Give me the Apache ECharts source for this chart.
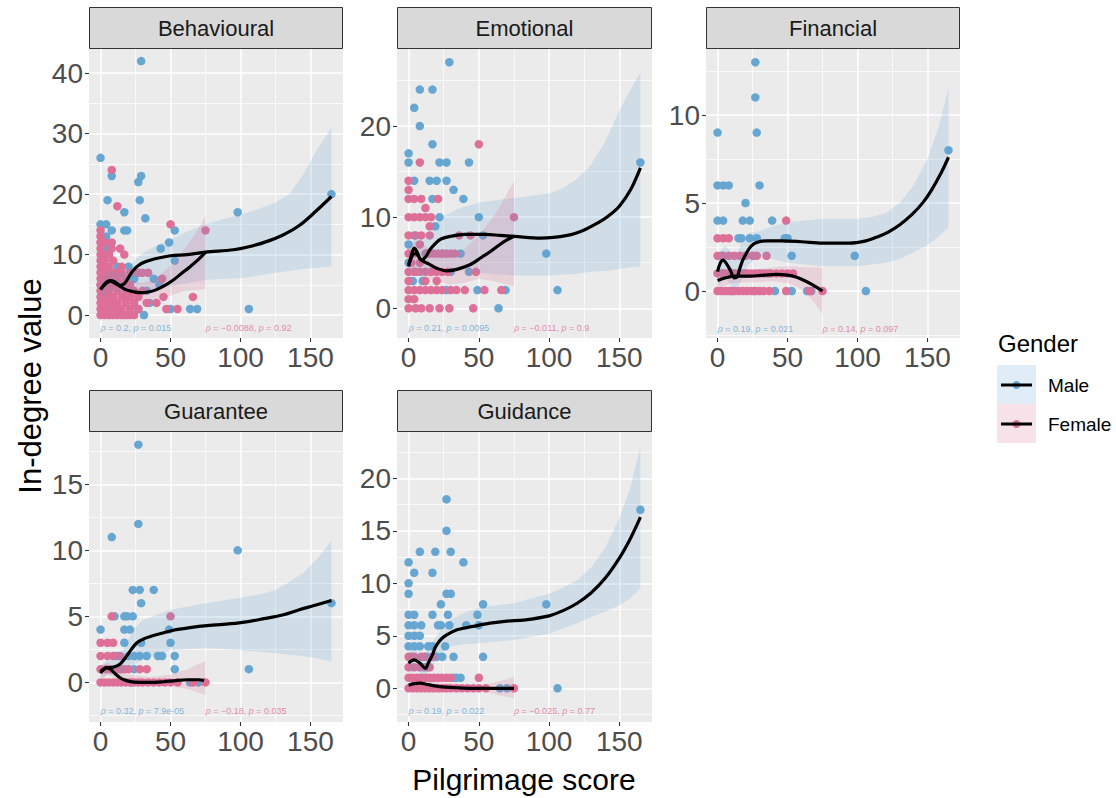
<!DOCTYPE html>
<html><head><meta charset="utf-8">
<script src="https://cdn.jsdelivr.net/npm/echarts@6/dist/echarts.min.js"></script>
<style>html,body{margin:0;padding:0;background:#fff}#c{width:1116px;height:798px}</style>
</head><body><div id="c"></div>
<script>
// ---------------- DATA ----------------
const panelNames = ['Behavioural', 'Emotional', 'Financial', 'Guarantee', 'Guidance'];
const xTicks = [0, 50, 100, 150];
const xMinorTicks = [25, 75, 125];
const xRange = [-8.25, 173.25];
const yTicks = [[0, 10, 20, 30, 40], [0, 10, 20], [0, 5, 10], [0, 5, 10, 15], [0, 5, 10, 15, 20]];
const yMinorTicks = [[5, 15, 25, 35], [5, 15, 25], [-2.5, 2.5, 7.5, 12.5], [-2.5, 2.5, 7.5, 12.5, 17.5], [-2.5, 2.5, 7.5, 12.5, 17.5, 22.5]];
const yRanges = [[-3.8, 44.0], [-3.26, 28.45], [-2.67, 13.75], [-3.0, 18.96], [-3.21, 24.41]];
const genders = ['Male', 'Female'];

const malePoints = [
  [[0,26],[8,23],[27,22],[29,23],[29,42],[5,19],[28,19],[17,17],[32,16],[98,17],[0,15],[4,15],[8,14],[17,14],[19,14],[53,14],[49,12],[43,11],[53,9],[4,13],[4,11],[3,8],[12,8],[20,8],[25,7],[38,6],[42,5],[33,4],[35,2],[31,0],[50,1],[64,1],[69,1],[106,1],[165,20],[4,4],[8,2],[15,5],[18,3],[22,4],[27,1],[10,6],[24,6],[0,5],[2,3],[6,7]],
  [[4,22],[8,20],[17,18],[0,17],[0,16],[22,16],[27,16],[43,16],[4,14],[15,14],[20,14],[27,14],[32,13],[17,12],[39,12],[22,10],[50,10],[19,9],[53,8],[0,7],[37,6],[98,6],[0,5],[43,4],[3,3],[27,2],[49,2],[69,2],[64,0],[106,2],[165,16],[29,27],[8,24],[17,24],[4,8],[12,6],[24,6],[30,4],[10,3],[5,4]],
  [[27,13],[27,11],[0,9],[28,9],[0,6],[4,6],[8,6],[30,6],[20,5],[0,4],[4,4],[18,4],[23,4],[39,4],[15,3],[17,3],[23,3],[28,3],[48,3],[50,3],[53,2],[98,2],[41,0],[53,0],[64,0],[67,0],[106,0],[165,8],[4,1],[12,1],[20,1],[30,1],[36,1],[3,2],[10,0],[26,0]],
  [[27,18],[27,12],[8,11],[98,10],[23,7],[28,7],[38,7],[29,6],[165,6],[10,5],[17,5],[19,5],[23,5],[0,4],[17,4],[21,4],[49,4],[17,3],[29,3],[50,3],[20,2],[24,2],[28,2],[33,2],[41,2],[44,2],[53,2],[24,1],[53,1],[106,1],[64,0],[70,0],[12,2],[8,1],[15,1]],
  [[27,18],[27,15],[8,13],[19,13],[30,13],[0,12],[39,12],[4,11],[17,11],[0,10],[0,9],[27,9],[30,9],[23,8],[53,8],[98,8],[0,7],[4,7],[17,7],[28,7],[49,7],[0,6],[4,6],[9,6],[21,6],[23,6],[29,6],[41,6],[50,6],[0,5],[4,5],[8,5],[0,4],[4,4],[8,4],[17,4],[26,4],[13,3],[32,3],[53,3],[37,1],[32,1],[106,0],[65,0],[70,0],[165,17],[11,2],[20,3],[24,3],[14,4],[34,1]]
];

const femalePoints = [
  [[0,0],[0,1],[0,2],[0,3],[0,4],[0,5],[0,6],[0,7],[0,8],[0,9],[0,10],[0,11],[0,12],[0,13],[0,14],[8,24],[12,18],[50,15],[75,14],[8,12],[8,11],[14,11],[17,10],[34,7],[44,6],[66,3],[45,3],[40,2],[47,1],[55,1],
   [3,0],[3,1],[3,2],[3,3],[3,4],[3,5],[3,6],[3,7],[3,8],[3,9],[3,10],[3,12],[6,0],[6,1],[6,2],[6,3],[6,4],[6,5],[6,6],[6,8],[6,10],[9,0],[9,1],[9,2],[9,3],[9,5],[9,7],[9,9],[12,0],[12,1],[12,2],[12,4],[12,6],[12,7],[15,0],[15,1],[15,3],[15,5],[15,7],[15,8],[18,0],[18,2],[18,4],[18,6],[21,0],[21,1],[21,3],[21,5],[21,7],[24,0],[24,2],[24,4],[27,1],[27,3],[27,7],[30,4],[33,2],[30,7]],
  [[50,18],[8,16],[0,14],[0,13],[0,12],[4,12],[9,12],[21,12],[12,11],[0,10],[4,10],[8,10],[12,10],[16,10],[75,10],[15,9],[0,8],[5,8],[9,8],[15,8],[36,8],[44,8],[8,7],[13,6],[15,6],[18,6],[21,6],[24,6],[27,6],[30,6],[33,6],[0,4],[4,4],[8,4],[12,4],[16,4],[20,4],[24,4],[48,4],[20,3],[0,2],[4,2],[8,2],[12,2],[16,2],[20,2],[24,2],[34,2],[40,2],[54,2],[66,2],[0,1],[4,1],[0,0],[5,0],[9,0],[15,0],[22,0],[29,0],[46,0],[0,6],[4,6],[8,5],[0,3],[12,3],[28,4],[30,2],[2,5]],
  [[49,4],[0,3],[4,3],[8,3],[0,2],[4,2],[8,2],[12,2],[16,2],[20,2],[25,2],[28,2],[35,2],[0,1],[3,1],[6,1],[9,1],[12,1],[15,1],[18,1],[21,1],[24,1],[27,1],[30,1],[33,1],[38,1],[42,1],[46,1],[50,1],[54,1],[0,0],[3,0],[6,0],[9,0],[12,0],[15,0],[18,0],[21,0],[24,0],[27,0],[30,0],[33,0],[37,0],[49,0],[66,0],[75,0]],
  [[8,5],[50,5],[0,3],[5,3],[9,3],[0,2],[5,2],[9,2],[14,2],[0,1],[4,1],[7,1],[11,1],[14,1],[20,1],[28,1],[33,1],[0,0],[3,0],[6,0],[9,0],[12,0],[15,0],[18,0],[21,0],[24,0],[27,0],[30,0],[34,0],[38,0],[42,0],[46,0],[50,0],[55,0],[66,0],[75,0],[17,1],[22,0]],
  [[0,3],[4,3],[9,3],[17,3],[0,2],[4,2],[13,2],[15,2],[0,1],[3,1],[6,1],[9,1],[12,1],[15,1],[18,1],[21,1],[24,1],[27,1],[30,1],[50,1],[0,0],[3,0],[6,0],[9,0],[12,0],[15,0],[18,0],[21,0],[24,0],[27,0],[30,0],[34,0],[38,0],[42,0],[46,0],[50,0],[55,0],[75,0],[8,2],[2,3],[11,3]]
];

// loess fits: [x, fit]
const maleFit = [
  [[0,4.2],[4,5.4],[7,5.7],[10,5.5],[14,4.9],[17,5.2],[20,6.2],[23,7.3],[27,8.2],[32,8.8],[39,9.3],[50,9.8],[62,10.0],[75,10.4],[95,10.8],[106,11.3],[118,12.1],[130,13.2],[142,14.8],[154,17.2],[165,19.6]],
  [[0,4.6],[2,5.8],[4,6.6],[6,6.2],[9,5.3],[12,5.6],[15,6.4],[19,7.1],[23,7.6],[30,7.9],[40,8.1],[55,8.1],[65,8.0],[75,7.9],[94,7.7],[113,8.0],[125,8.6],[135,9.4],[142,10.1],[150,11.2],[158,13.0],[165,15.4]],
  [[0,1.1],[2,1.6],[4,1.75],[6,1.6],[9,1.2],[12,0.75],[14,0.8],[16,1.3],[18,1.75],[21,2.2],[24,2.55],[28,2.75],[35,2.85],[46,2.85],[60,2.8],[75,2.72],[94,2.72],[106,2.85],[115,3.1],[122,3.35],[130,3.75],[139,4.35],[147,5.05],[153,5.75],[160,6.75],[165,7.6]],
  [[0,0.7],[4,1.1],[9,1.15],[14,1.4],[18,1.9],[22,2.5],[26,3.0],[30,3.25],[35,3.45],[43,3.7],[52,3.95],[64,4.15],[76,4.3],[99,4.5],[118,4.85],[130,5.1],[142,5.5],[152,5.8],[165,6.2]],
  [[0,2.4],[4,2.7],[8,2.4],[12,1.9],[14,2.4],[17,3.2],[19,3.9],[22,4.5],[25,4.9],[30,5.3],[35,5.6],[46,5.9],[58,6.2],[70,6.4],[82,6.5],[100,6.9],[110,7.4],[120,8.1],[130,9.1],[140,10.5],[150,12.4],[158,14.3],[165,16.3]]
];
const femaleFit = [
  [[0,4.3],[4,5.2],[7,5.6],[10,5.3],[13,4.9],[18,4.2],[23,3.9],[28,3.7],[34,3.8],[40,4.2],[46,4.9],[52,5.8],[58,6.9],[64,8.0],[70,9.2],[75,10.4]],
  [[0,4.8],[3,5.9],[5,6.0],[9,5.3],[14,4.9],[20,4.4],[27,4.1],[35,4.3],[44,4.8],[52,5.6],[58,6.2],[65,7.0],[70,7.5],[75,7.9]],
  [[0,0.6],[6,0.75],[12,0.85],[23,0.85],[33,0.9],[42,0.95],[50,0.9],[56,0.8],[62,0.6],[68,0.35],[75,0.0]],
  [[0,0.8],[4,1.1],[7,1.0],[10,0.7],[14,0.35],[18,0.15],[24,0.02],[35,0.0],[45,0.05],[52,0.12],[62,0.2],[70,0.2],[74,0.15]],
  [[0,0.3],[4,0.45],[8,0.5],[14,0.35],[22,0.16],[35,0.05],[46,0.0],[60,0.0],[75,0.0]]
];
// confidence bands: [x, lower, upper]
const maleBand = [
  [[0,2.5,6.2],[5,3.6,7.2],[10,4.0,7.2],[15,3.6,6.8],[20,3.7,8.0],[25,3.6,9.2],[30,3.8,10.2],[40,4.3,11.5],[50,4.7,12.5],[60,5.2,13.6],[75,5.8,15.0],[90,6.0,16.0],[100,6.1,16.6],[110,6.4,17.3],[125,7.0,18.6],[135,7.3,20.0],[145,7.6,23.3],[155,7.8,27.5],[165,8.0,31.0]],
  [[0,3.4,6.0],[5,4.5,8.5],[10,3.2,7.4],[15,4.0,8.2],[20,4.4,9.3],[25,4.5,10.1],[35,4.2,10.9],[50,3.9,11.6],[75,3.6,12.1],[100,3.6,12.6],[110,3.7,13.2],[120,3.8,14.2],[130,4.0,15.8],[140,4.1,18.3],[150,4.3,21.7],[158,4.5,24.0],[165,4.6,25.9]],
  [[0,0.2,2.0],[5,0.8,2.6],[10,0.3,2.2],[13,0.0,1.8],[17,0.6,2.8],[22,1.5,3.3],[30,2.0,3.4],[40,1.8,3.7],[50,1.6,3.9],[75,1.4,4.1],[100,1.4,4.1],[110,1.5,4.2],[120,1.6,4.4],[130,1.8,5.0],[140,2.2,6.0],[150,2.6,7.5],[158,3.1,9.3],[165,3.6,11.5]],
  [[0,0.2,1.3],[5,0.6,1.6],[10,0.6,1.7],[15,0.8,2.3],[20,1.05,3.3],[25,1.4,4.2],[30,1.7,4.7],[40,2.1,5.1],[50,2.45,5.5],[75,2.6,6.0],[100,2.45,6.4],[115,2.3,6.7],[125,2.2,7.0],[135,2.1,7.6],[145,2.0,8.3],[155,1.8,9.4],[165,1.6,10.7]],
  [[0,1.3,3.6],[5,1.8,3.7],[10,1.2,3.2],[15,1.6,3.9],[20,2.7,5.0],[25,3.5,5.9],[30,4.0,6.5],[40,4.2,7.2],[50,4.3,7.7],[75,4.6,8.1],[100,5.2,9.0],[110,5.7,9.6],[120,6.2,10.3],[130,6.8,11.5],[140,7.3,13.4],[150,7.9,16.2],[158,8.6,19.2],[165,9.5,23.0]]
];
const femaleBand = [
  [[0,2.5,6.3],[5,3.3,7.0],[10,3.5,7.0],[15,3.0,6.3],[20,2.6,5.8],[30,2.2,5.3],[40,2.3,6.1],[50,3.2,8.2],[55,3.6,9.5],[60,4.0,11.0],[65,4.1,12.5],[70,4.2,14.3],[75,4.3,16.4]],
  [[0,3.3,6.5],[5,4.0,7.5],[10,3.8,7.0],[15,3.3,6.5],[20,2.9,6.0],[30,2.6,5.6],[40,2.8,6.6],[50,3.2,8.0],[55,3.1,9.0],[60,3.0,10.0],[65,2.8,11.2],[70,2.6,12.6],[75,2.4,13.9]],
  [[0,0.1,1.2],[10,0.45,1.25],[25,0.5,1.2],[40,0.55,1.35],[50,0.45,1.4],[55,0.3,1.4],[60,0.1,1.35],[65,-0.3,1.35],[70,-0.75,1.35],[75,-1.3,1.3]],
  [[0,0.3,1.3],[5,0.6,1.5],[10,0.3,1.1],[15,-0.1,0.8],[20,-0.3,0.6],[35,-0.3,0.4],[50,-0.3,0.6],[56,-0.4,0.8],[62,-0.5,1.0],[68,-0.7,1.3],[75,-0.95,1.6]],
  [[0,-0.1,0.7],[5,0.1,0.85],[10,0.1,0.8],[18,-0.1,0.6],[25,-0.2,0.5],[50,-0.3,0.3],[56,-0.4,0.4],[62,-0.6,0.6],[68,-0.75,0.8],[75,-0.95,1.1]]
];
// correlation annotations
const maleRho = ['0.2', '0.21', '0.19', '0.32', '0.19'];
const maleP = ['0.015', '0.0095', '0.021', '7.9e-05', '0.022'];
const femaleRho = ['\u22120.0088', '\u22120.011', '0.14', '\u22120.18', '\u22120.025'];
const femaleP = ['0.92', '0.9', '0.097', '0.035', '0.77'];
const annotX = [0, 75];
const annotY = -2.15;

// ---------------- LAYOUT / STYLE ----------------
const FONT = '"Liberation Sans", Arial, Helvetica, sans-serif';
const BLUE = '#66A6D1';
const PINK = '#DE6F96';
const BLUE_BAND = 'rgba(102,166,209,0.2)';
const PINK_BAND = 'rgba(222,111,150,0.2)';
const grids = [
  {left: 89, top: 49, width: 254, height: 289},
  {left: 397, top: 49, width: 255, height: 289},
  {left: 706, top: 49, width: 254, height: 289},
  {left: 89, top: 432, width: 254, height: 290},
  {left: 397, top: 432, width: 255, height: 290}
];

const xAxes = [], yAxes = [], series = [], graphics = [];
grids.forEach((g, i) => {
  g.show = true; g.backgroundColor = '#EBEBEB'; g.borderWidth = 0; g.containLabel = false;
  xAxes.push({
    gridIndex: i, type: 'value', min: xRange[0], max: xRange[1], position: 'bottom',
    axisLine: {show: false, onZero: false},
    axisTick: {show: true, customValues: xTicks, length: 4, lineStyle: {color: '#333333', width: 1.1}},
    axisLabel: {show: true, customValues: xTicks, color: '#4D4D4D', fontSize: 28, fontFamily: FONT, margin: 5},
    splitLine: {show: true, lineStyle: {color: '#FFFFFF', width: 1.5}}
  });
  xAxes.push({
    gridIndex: i, type: 'value', min: xRange[0], max: xRange[1], position: 'bottom',
    axisLine: {show: false, onZero: false},
    axisTick: {show: false, customValues: xMinorTicks},
    axisLabel: {show: false, customValues: xMinorTicks},
    splitLine: {show: true, lineStyle: {color: '#FFFFFF', width: 0.7}}
  });
  yAxes.push({
    gridIndex: i, type: 'value', min: yRanges[i][0], max: yRanges[i][1], position: 'left',
    axisLine: {show: false, onZero: false},
    axisTick: {show: true, customValues: yTicks[i], length: 4, lineStyle: {color: '#333333', width: 1.1}},
    axisLabel: {show: true, customValues: yTicks[i], color: '#4D4D4D', fontSize: 28, fontFamily: FONT, margin: 6},
    splitLine: {show: true, lineStyle: {color: '#FFFFFF', width: 1.5}}
  });
  yAxes.push({
    gridIndex: i, type: 'value', min: yRanges[i][0], max: yRanges[i][1], position: 'left',
    axisLine: {show: false, onZero: false},
    axisTick: {show: false, customValues: yMinorTicks[i]},
    axisLabel: {show: false, customValues: yMinorTicks[i]},
    splitLine: {show: true, lineStyle: {color: '#FFFFFF', width: 0.7}}
  });
  const xi = 2 * i, yi = 2 * i;
  series.push({type: 'scatter', name: 'Male', xAxisIndex: xi, yAxisIndex: yi, data: malePoints[i],
    symbolSize: 8.5, itemStyle: {color: BLUE, opacity: 1}, z: 2, silent: true});
  series.push({type: 'scatter', name: 'Female', xAxisIndex: xi, yAxisIndex: yi, data: femalePoints[i],
    symbolSize: 8.5, itemStyle: {color: PINK, opacity: 1}, z: 2, silent: true});
  [[maleBand[i], BLUE_BAND], [femaleBand[i], PINK_BAND]].forEach(([band, col]) => {
    series.push({
      type: 'custom', xAxisIndex: xi, yAxisIndex: yi, data: band, z: 3, silent: true, clip: true,
      encode: {x: 0, y: [1, 2]},
      renderItem: (params, api) => {
        if (params.dataIndex !== 0) return null;
        const pts = [];
        band.forEach(b => pts.push(api.coord([b[0], b[2]])));
        band.slice().reverse().forEach(b => pts.push(api.coord([b[0], b[1]])));
        return {type: 'polygon', shape: {points: pts}, style: {fill: col}};
      }
    });
  });
  [maleFit[i], femaleFit[i]].forEach(fit => {
    series.push({type: 'line', xAxisIndex: xi, yAxisIndex: yi, data: fit, showSymbol: false, symbol: 'none',
      smooth: 0.35, lineStyle: {color: '#000000', width: 3.2}, z: 4, silent: true});
  });
  [[maleRho[i], maleP[i], BLUE, annotX[0]], [femaleRho[i], femaleP[i], PINK, annotX[1]]].forEach(([r, p, col, ax]) => {
    series.push({type: 'scatter', xAxisIndex: xi, yAxisIndex: yi, data: [[ax, annotY]], symbolSize: 0, z: 5, silent: true,
      label: {show: true, position: 'right', distance: 0, color: col, fontSize: 9, fontFamily: FONT,
        formatter: () => '{i|\u03C1} = ' + r + ', {i|p} = ' + p,
        rich: {i: {fontStyle: 'italic', color: col, fontSize: 9, fontFamily: FONT}}}});
  });
  const g0 = grids[i];
  graphics.push({type: 'rect', shape: {x: g0.left + 0.5, y: g0.top - 41.5, width: g0.width - 1, height: 41},
    style: {fill: '#D9D9D9', stroke: '#333333', lineWidth: 1}, z: 10});
  graphics.push({type: 'text', x: g0.left + g0.width / 2, y: g0.top - 21, z: 11,
    style: {text: panelNames[i], fill: '#1A1A1A', fontSize: 22, fontFamily: FONT, textAlign: 'center', textVerticalAlign: 'middle'}});
});

graphics.push({type: 'text', x: 30, y: 386, rotation: Math.PI / 2,
  style: {text: 'In-degree value', fill: '#000', fontSize: 31, fontFamily: FONT, textAlign: 'center', textVerticalAlign: 'middle'}});
graphics.push({type: 'text', x: 524, y: 779,
  style: {text: 'Pilgrimage score', fill: '#000', fontSize: 30, fontFamily: FONT, textAlign: 'center', textVerticalAlign: 'middle'}});
graphics.push({type: 'text', x: 998, y: 343,
  style: {text: 'Gender', fill: '#000', fontSize: 24, fontFamily: FONT, textAlign: 'left', textVerticalAlign: 'middle'}});
[[genders[0], BLUE_BAND, BLUE, 365], [genders[1], PINK_BAND, PINK, 404]].forEach(([lab, band, col, top]) => {
  graphics.push({type: 'rect', shape: {x: 997, y: top, width: 39, height: 39}, style: {fill: '#FFFFFF'}});
  graphics.push({type: 'rect', shape: {x: 997, y: top, width: 39, height: 39}, style: {fill: band}});
  graphics.push({type: 'circle', shape: {cx: 1016.5, cy: top + 20, r: 4}, style: {fill: col}});
  graphics.push({type: 'line', shape: {x1: 1001, y1: top + 20, x2: 1032, y2: top + 20}, style: {stroke: '#000', lineWidth: 3}});
  graphics.push({type: 'text', x: 1048, y: top + 20,
    style: {text: lab, fill: '#000', fontSize: 19, fontFamily: FONT, textAlign: 'left', textVerticalAlign: 'middle'}});
});

const chart = echarts.init(document.getElementById('c'), null, {renderer: 'svg', width: 1116, height: 798});
chart.setOption({
  backgroundColor: '#FFFFFF',
  animation: false,
  grid: grids,
  xAxis: xAxes,
  yAxis: yAxes,
  series: series,
  graphic: graphics
});
</script></body></html>
